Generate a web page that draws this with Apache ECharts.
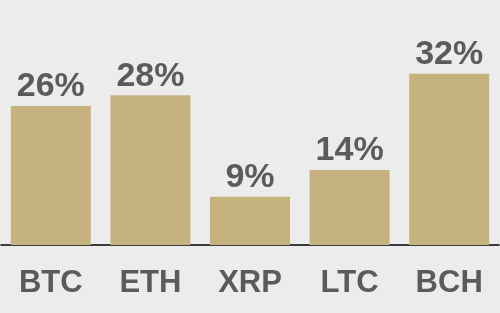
<!DOCTYPE html>
<html>
<head>
	<meta charset="utf-8" />
	<title>Crypto share</title>
	<script src="https://cdn.jsdelivr.net/npm/echarts@6/dist/echarts.min.js"></script>
	<style>
		html, body { margin: 0; padding: 0; background: #ececec; }
		#main { width: 500px; height: 313px; }
	</style>
</head>
<body>
	<div id="main"></div>
	<script type="text/javascript">
		var coins = ['BTC', 'ETH', 'XRP', 'LTC', 'BCH'];
		var shares = [26, 28, 9, 14, 32];

		var myChart = echarts.init(document.getElementById('main'));
		myChart.setOption({
			backgroundColor: '#ececec',
			animation: false,
			grid: { left: 1, right: 1, top: 31, bottom: 68 },
			xAxis: {
				type: 'category',
				data: coins,
				axisLine: { lineStyle: { color: '#000', width: 1.5 } },
				axisTick: { show: false },
				axisLabel: {
					color: '#5b5b5b',
					fontFamily: 'Liberation Sans',
					fontWeight: 'bold',
					fontSize: 31,
					margin: 23
				}
			},
			yAxis: {
				type: 'value',
				min: 0,
				max: 40,
				show: false,
				splitLine: { show: false }
			},
			series: [{
				type: 'bar',
				data: shares,
				barWidth: 80,
				itemStyle: { color: '#c6b27e' },
				label: {
					show: true,
					position: 'top',
					distance: 2,
					formatter: '{c}%',
					color: '#5b5b5b',
					fontFamily: 'Liberation Sans',
					fontWeight: 'bold',
					fontSize: 34
				}
			}]
		});
	</script>
</body>
</html>
